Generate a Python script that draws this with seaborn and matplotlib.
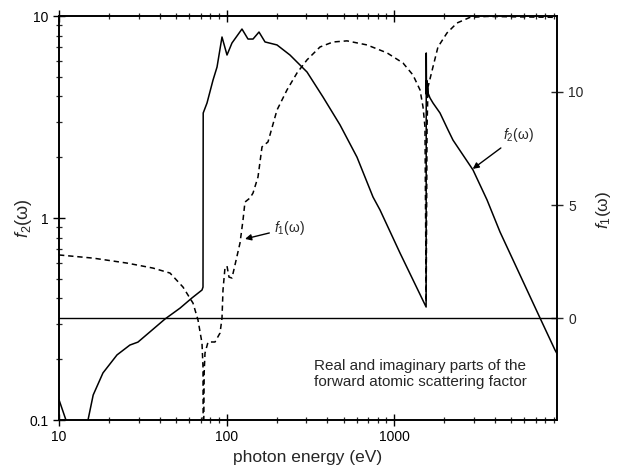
import numpy as np
import pandas as pd
import matplotlib
matplotlib.use("Agg")
import matplotlib.pyplot as plt
import seaborn as sns
from matplotlib.ticker import LogLocator, NullFormatter, FuncFormatter, FixedLocator

# ---- data ----
energy_f2 = [10.0, 11.0, 12.8, 14.9, 16.0, 18.3, 22.2, 26.5, 29.6, 34.9, 42.9, 52.8,
             62.2, 71.4, 72.4, 72.6, 76.5, 83.1, 87.8, 94.0, 100.7, 107.8, 123.7,
             134.4, 144.0, 156.3, 169.8, 200.2, 239.3, 302.5, 376.9, 476.1, 601.4,
             749.4, 825.0, 1086.0, 1555.0, 1558.0, 1563.0, 1567.0, 1571.0, 1576.0,
             1582.0, 1588.0, 1596.0, 1640.0, 1709.0, 1882.0, 2101.0, 2250.0, 2962.0,
             3591.0, 4294.0, 7441.0, 9147.0, 9400.0]
f2_values = [0.126, 0.100, 0.075, 0.100, 0.133, 0.171, 0.210, 0.235, 0.243, 0.273,
             0.316, 0.358, 0.402, 0.440, 0.455, 3.31, 3.71, 4.82, 5.59, 7.87, 6.41,
             7.35, 8.62, 7.69, 7.69, 8.33, 7.44, 7.19, 6.41, 5.28, 3.97, 2.89, 2.00,
             1.27, 1.096, 0.671, 0.3625, 6.56, 4.1, 4.8, 4.0, 4.6, 3.95, 4.4, 4.16,
             3.93, 3.71, 3.31, 2.73, 2.43, 1.73, 1.23, 0.853, 0.320, 0.222, 0.213]

energy_f1 = [10.0, 16.0, 25.5, 36.4, 46.0, 55.0, 63.1, 67.6, 71.4, 72.4, 72.7, 73.6,
             74.4, 77.6, 85.4, 91.5, 94.0, 95.3, 97.9, 100.7, 103.5, 107.8, 112.4,
             120.4, 125.5, 128.9, 138.1, 144.0, 154.2, 162.9, 176.9, 200.2, 229.7,
             263.6, 302.5, 361.6, 432.3, 524.1, 690.0, 908.0, 1132.0, 1298.0, 1430.0,
             1490.0, 1531.0, 1556.0, 1575.0, 1596.0, 1709.0, 1830.0, 2072.0, 2377.0,
             2842.0, 3591.0, 5653.0, 9400.0]
f1_values = [2.79, 2.65, 2.43, 2.21, 1.99, 1.37, 0.66, -0.09, -1.11, -2.17, -7.0, -2.4,
             -1.55, -1.06, -1.06, -0.66, 0.0, 1.24, 2.21, 2.30, 1.81, 1.77, 2.35,
             3.32, 4.34, 5.13, 5.31, 5.53, 6.24, 7.57, 7.79, 9.20, 10.09,
             10.84, 11.42, 11.99, 12.21, 12.26, 12.08, 11.73, 11.28, 10.75, 10.09,
             9.34, 8.45, 0.71, 8.45, 10.22, 11.11, 11.99, 12.61, 13.05,
             13.30, 13.34, 13.32, 13.30]

x_ticks = [10, 100, 1000]
x_ticklabels = ["10", "100", "1000"]
f2_ticks = [0.1, 1, 10]
f1_ticks = [0, 5, 10]

title_text = "Real and imaginary parts of the\nforward atomic scattering factor"

df_f2 = pd.DataFrame({"energy": energy_f2, "f2": f2_values})
df_f1 = pd.DataFrame({"energy": energy_f1, "f1": f1_values})

sns.set_style("ticks")
plt.rcParams['font.family'] = ['Liberation Sans', 'DejaVu Sans']
plt.rcParams['mathtext.fontset'] = 'custom'
plt.rcParams['mathtext.it'] = 'Liberation Sans:italic'
plt.rcParams['mathtext.rm'] = 'Liberation Sans'

fig = plt.figure(figsize=(6.17, 4.66), dpi=100)
ax = fig.add_axes([59 / 617, 1 - 420 / 466, 498 / 617, 404 / 466])
ax.set_xscale("log")
ax.set_yscale("log")
ax2 = ax.twinx()

sns.lineplot(data=df_f2, x="energy", y="f2", ax=ax, sort=False, estimator=None,
             color="black", linewidth=1.1, legend=False)
sns.lineplot(data=df_f1, x="energy", y="f1", ax=ax2, sort=False, estimator=None,
             color="black", linewidth=1.1, linestyle=(0, (3.5, 2.5)), legend=False)
ax2.axhline(0, color="black", linewidth=1.0)

ax.set_xlim(10, 9400)
ax.set_ylim(0.1, 10)
ax2.set_ylim(-4.51, 13.36)

ax.xaxis.set_major_locator(FixedLocator(x_ticks))
ax.set_xticklabels(x_ticklabels)
ax.xaxis.set_minor_locator(LogLocator(base=10, subs=np.arange(2, 10)))
ax.xaxis.set_minor_formatter(NullFormatter())
ax.yaxis.set_major_locator(FixedLocator(f2_ticks))
ax.yaxis.set_major_formatter(FuncFormatter(lambda v, p: f"{v:g}"))
ax.yaxis.set_minor_locator(LogLocator(base=10, subs=np.arange(2, 10)))
ax.yaxis.set_minor_formatter(NullFormatter())
ax2.yaxis.set_major_locator(FixedLocator(f1_ticks))

for a in (ax, ax2):
    for s in a.spines.values():
        s.set_visible(True)
        s.set_linewidth(1.2)
        s.set_color("black")

ax.tick_params(which="major", direction="inout", length=8, width=1.0, top=True,
               bottom=True, left=True, right=False, labelsize=10, colors="black")
ax.tick_params(which="minor", direction="inout", length=5, width=0.9, top=True,
               bottom=True, left=True, right=False)
ax2.tick_params(which="major", direction="inout", length=8, width=1.0, right=True,
                labelsize=10, pad=4)

ax.set_xlabel("photon energy (eV)", fontsize=12.5, labelpad=4)
ax.set_ylabel(r"$f_2$(ω)", fontsize=13)
ax2.set_ylabel(r"$f_1$(ω)", fontsize=12.5, rotation=90)
ax.yaxis.set_label_coords(-0.05, 0.5)
ax2.yaxis.set_label_coords(1.074, 0.52)

ax.text(0.725, 0.114, title_text, transform=ax.transAxes, ha="center", va="center",
        fontsize=11, linespacing=1.25, multialignment="center")

ax.annotate(r"$f_2$(ω)", xy=(2950, 1.75), xytext=(4477, 2.58), textcoords="data",
            ha="left", va="center", fontsize=10,
            arrowprops=dict(arrowstyle="-|>", color="black", lw=1.0,
                            mutation_scale=9, shrinkA=1, shrinkB=0))
ax2.annotate(r"$f_1$(ω)", xy=(129, 3.5), xytext=(192, 3.98), textcoords="data",
             ha="left", va="center", fontsize=10,
             arrowprops=dict(arrowstyle="-|>", color="black", lw=1.0,
                             mutation_scale=9, shrinkA=1, shrinkB=0))

fig.savefig("out.png", dpi=100, facecolor="white")
